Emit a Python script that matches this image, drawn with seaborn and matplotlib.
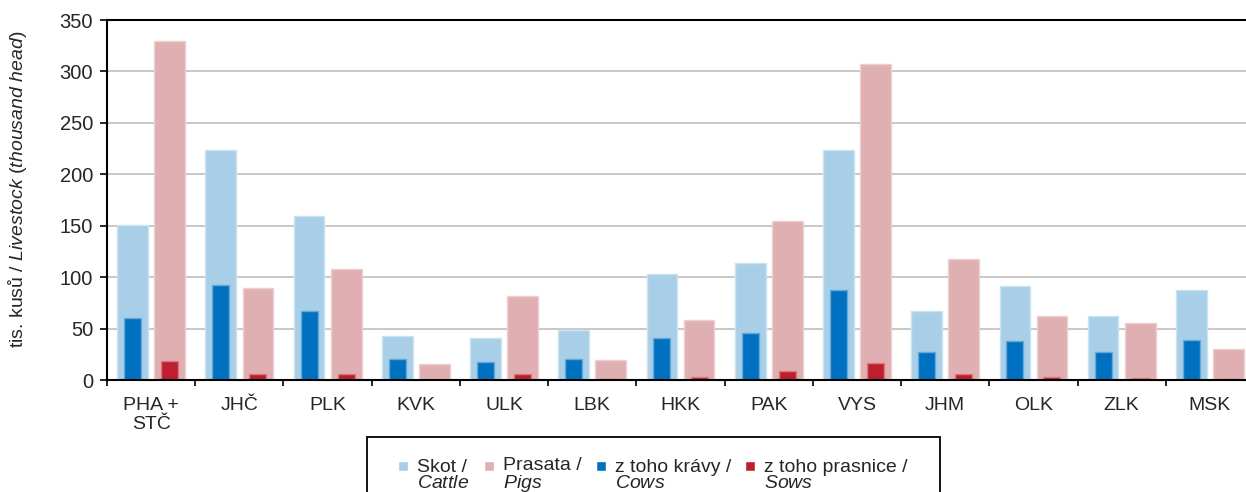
import numpy as np
import pandas as pd
import matplotlib.pyplot as plt
import seaborn as sns
from matplotlib.patches import Patch, Rectangle
from matplotlib.legend_handler import HandlerPatch
from matplotlib.colors import to_rgb

# livestock by region, thousand head
regions = ['PHA +\nSTČ', 'JHČ', 'PLK', 'KVK', 'ULK', 'LBK', 'HKK', 'PAK', 'VYS', 'JHM', 'OLK', 'ZLK', 'MSK']
cattle = [151, 224, 159, 43, 41, 49, 103, 114, 224, 67, 91, 62, 88]
pigs = [330, 89, 108, 16, 82, 19, 58, 155, 307, 118, 62, 55, 30]
cows = [60, 92, 67, 20, 18, 20, 41, 46, 88, 27, 38, 27, 39]
sows = [18.5, 5.5, 6, 0.3, 6, 1, 2.6, 9, 17, 5.5, 3, 2, 1]

labels = ['Skot /\n$\\it{Cattle}$', 'Prasata /\n$\\it{Pigs}$',
          'z toho krávy /\n$\\it{Cows}$', 'z toho prasnice /\n$\\it{Sows}$']
colors = ['#A9CEE8', '#E0AFB2', '#0070C0', '#BE1E2D']

sns.set_theme(style='white')
plt.rcParams['font.family'] = ['Liberation Sans', 'DejaVu Sans']
plt.rcParams['mathtext.fontset'] = 'custom'
plt.rcParams['mathtext.rm'] = 'Liberation Sans'
plt.rcParams['mathtext.it'] = 'Liberation Sans:italic'

n = len(regions)
df_total = pd.DataFrame({'region': regions * 2,
                         'kind': ['Skot'] * n + ['Prasata'] * n,
                         'value': cattle + pigs})
df_sub = pd.DataFrame({'region': regions * 2,
                       'kind': ['krávy'] * n + ['prasnice'] * n,
                       'value': cows + sows})

fig = plt.figure(figsize=(12.46, 4.92), dpi=100)
ax = fig.add_axes([0.0859, 0.2276, 0.9205, 0.7317])

sns.barplot(data=df_total, x='region', y='value', hue='kind', palette=colors[:2],
            saturation=1, width=0.84, gap=0.17, legend=False, errorbar=None, ax=ax)
sns.barplot(data=df_sub, x='region', y='value', hue='kind', palette=colors[2:],
            saturation=1, width=0.84, gap=0.54, legend=False, errorbar=None, ax=ax)

# light outline around every bar
for p in ax.patches:
    fc = np.array(to_rgb(p.get_facecolor()))
    p.set_edgecolor(fc + (1 - fc) * 0.4)
    p.set_linewidth(1)

ax.set_ylim(0, 350)
ax.set_yticks(range(0, 351, 50))
ax.set_xlim(-0.5, n - 0.5)
ax.yaxis.grid(True, color='#BFBFBF', lw=1.2)
ax.set_axisbelow(True)

for s in ['top', 'left', 'bottom']:
    ax.spines[s].set_color('black')
    ax.spines[s].set_linewidth(1.5)
ax.spines['right'].set_visible(False)

ax.set_xticks(np.arange(-0.5, n, 1), minor=True)
ax.tick_params(axis='x', which='major', bottom=False, length=0, pad=12, labelsize=14)
ax.tick_params(axis='x', which='minor', bottom=True, length=4, width=1.2, color='black')
ax.tick_params(axis='y', left=True, length=5, width=1.2, color='black', pad=5, labelsize=14.5)

ax.set_xlabel('')
ax.set_ylabel('tis. kusů / $\\it{Livestock\\ (thousand\\ head)}$', fontsize=14)
ax.yaxis.set_label_coords(-0.068, 0.53)


def top_square(legend, orig_handle, xdescent, ydescent, width, height, fontsize):
    sq = 7.2
    return Rectangle((-xdescent, -ydescent + height / 2 - sq / 2 + 6.5), sq, sq)


handles = [Patch(facecolor=c) for c in colors]
leg = fig.legend(handles, labels, loc='upper left', bbox_to_anchor=(398 / 1246, 1 - 457 / 492),
                 ncol=4, frameon=False, fontsize=14, borderpad=0, borderaxespad=0,
                 handlelength=0.52, handletextpad=0.45, columnspacing=0.75,
                 handler_map={Patch: HandlerPatch(patch_func=top_square)})
for t in leg.get_texts():
    t.set_linespacing(0.95)

# legend box, runs off the bottom edge like in the source
fig.add_artist(Rectangle((367 / 1246, -0.1), (940 - 367) / 1246, 0.1 + (492 - 437) / 492,
                         transform=fig.transFigure, fill=False, edgecolor='black', lw=1.3))

fig.savefig('out.png', dpi=100)
